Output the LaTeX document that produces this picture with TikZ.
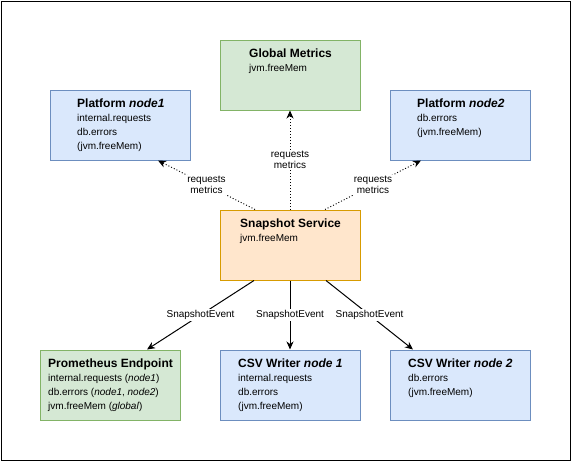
\documentclass[tikz,border=0pt]{standalone}
\usepackage{fontspec}
\setmainfont{Liberation Sans}
\usetikzlibrary{arrows.meta}
\definecolor{bluefill}{HTML}{DAE8FC}
\definecolor{bluedraw}{HTML}{6C8EBF}
\definecolor{greenfill}{HTML}{D5E8D4}
\definecolor{greendraw}{HTML}{82B366}
\definecolor{orangefill}{HTML}{FFE6CC}
\definecolor{orangedraw}{HTML}{D79B00}
\newcommand{\boxtext}[2]{\parbox[t]{135pt}{\raggedright\fontsize{10}{14}\selectfont{\fontsize{12}{14}\selectfont\bfseries #1}\\#2}}
\tikzset{
  box/.style={rectangle, minimum width=140pt, minimum height=70pt, line width=1pt, inner sep=0pt},
  bluebox/.style={box, fill=bluefill, draw=bluedraw},
  greenbox/.style={box, fill=greenfill, draw=greendraw},
  orangebox/.style={box, fill=orangefill, draw=orangedraw},
  boxlabel/.style={anchor=base west, inner sep=0pt},
  edgelabel/.style={fill=white, inner sep=1pt, align=center, font=\fontsize{10}{11.5}\selectfont},
  arrowtip/.style={-{Stealth[length=8pt,width=7pt,inset=2.5pt]}},
  dottedline/.style={arrowtip, line width=0.9pt, dash pattern=on 1pt off 2pt},
  solidline/.style={arrowtip, line width=1pt},
}
\begin{document}
\begin{tikzpicture}[x=1pt,y=-1pt]
\useasboundingbox (0,0) rectangle (571,461);
\node[draw=black, line width=1pt, minimum width=569pt, minimum height=459pt, inner sep=0pt] (frame) at (285.5,230.5) {};

\node[greenbox] (gm) at (290,75) {};
\node[bluebox] (p1) at (120,125) {};
\node[bluebox] (p2) at (460,125) {};
\node[orangebox] (snap) at (290,245) {};
\node[greenbox] (prom) at (110,385) {};
\node[bluebox] (csv1) at (290,385) {};
\node[bluebox] (csv2) at (460,385) {};

\node[boxlabel] (gmt) at (249,57) {\boxtext{Global Metrics}{jvm.freeMem}};
\node[boxlabel] (p1t) at (77,107) {\boxtext{Platform \textit{node1}}{internal.requests\\db.errors\\(jvm.freeMem)}};
\node[boxlabel] (p2t) at (417,107) {\boxtext{Platform \textit{node2}}{db.errors\\(jvm.freeMem)}};
\node[boxlabel] (snapt) at (240,227) {\boxtext{Snapshot Service}{jvm.freeMem}};
\node[boxlabel] (promt) at (48,367) {\boxtext{Prometheus Endpoint}{internal.requests (\textit{node1})\\db.errors (\textit{node1}, \textit{node2})\\jvm.freeMem (\textit{global})}};
\node[boxlabel] (csv1t) at (238,367) {\boxtext{CSV Writer \textit{node 1}}{internal.requests\\db.errors\\(jvm.freeMem)}};
\node[boxlabel] (csv2t) at (408,367) {\boxtext{CSV Writer \textit{node 2}}{db.errors\\(jvm.freeMem)}};

\draw[dottedline] (snap.north) -- node[edgelabel] (l1) {requests\\metrics} (gm.south);
\draw[dottedline] ([xshift=-35pt]snap.north) -- node[edgelabel] (l2) {requests\\metrics} ([xshift=38pt]p1.south);
\draw[dottedline] ([xshift=35pt]snap.north) -- node[edgelabel] (l3) {requests\\metrics} ([xshift=-39pt]p2.south);

\draw[solidline] ([xshift=-36pt]snap.south) -- node[edgelabel] (l4) {SnapshotEvent} ([xshift=37pt]prom.north);
\draw[solidline] (snap.south) -- node[edgelabel] (l5) {SnapshotEvent} (csv1.north);
\draw[solidline] ([xshift=36pt]snap.south) -- node[edgelabel] (l6) {SnapshotEvent} ([xshift=-47pt]csv2.north);
\end{tikzpicture}
\end{document}
